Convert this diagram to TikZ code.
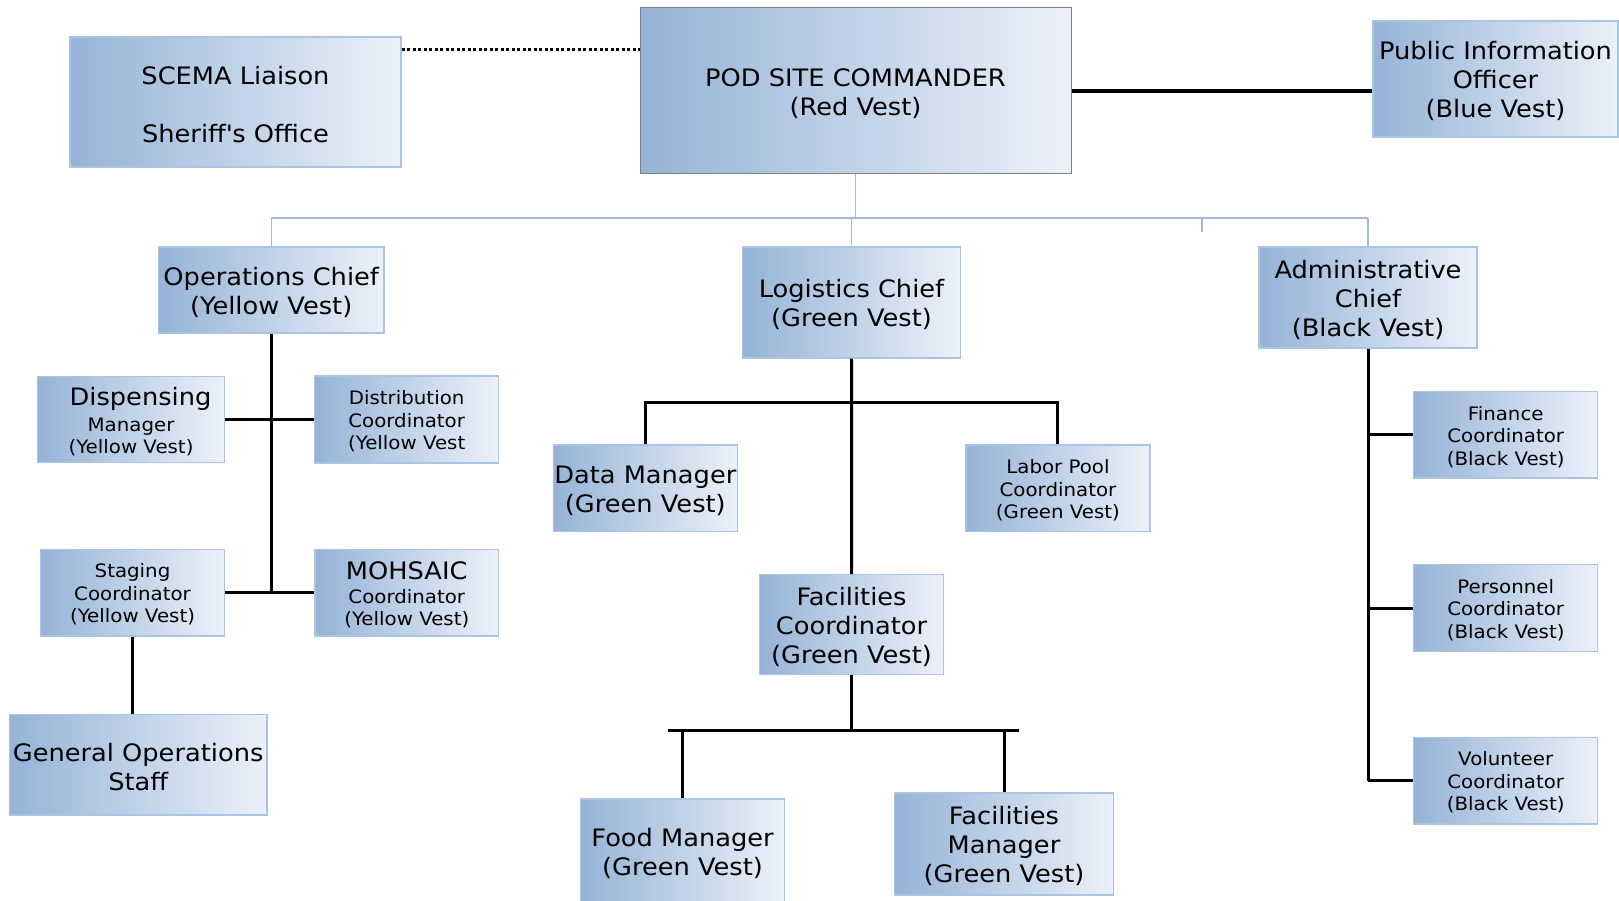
\documentclass[tikz,border=0pt]{standalone}
\usepackage{fontspec}
\setmainfont{DejaVu Sans}[FakeStretch=1.07]
\definecolor{gl}{RGB}{149,179,215}
\definecolor{gr}{RGB}{236,241,249}
\definecolor{bord}{RGB}{172,196,228}
\definecolor{busblue}{RGB}{160,185,220}
\newcommand{\bigf}{\fontsize{24}{29}\selectfont}
\newcommand{\smallf}{\fontsize{18.5}{22.5}\selectfont}
\newcommand{\bgstrut}{\rule{0pt}{23pt}}
\newcommand{\smstrut}{\rule{0pt}{18pt}}
\tikzset{
  box/.style={draw=bord, line width=1.2pt, left color=gl, right color=gr, inner sep=0pt, align=center, anchor=center},
  bigbox/.style={box, font=\bigf},
  smallbox/.style={box, font=\smallf},
  link/.style={line width=3pt, black},
  thicklink/.style={line width=4pt, black},
  dotlink/.style={line width=3pt, black, dash pattern=on 3pt off 2.5pt},
  buslink/.style={line width=1.5pt, busblue},
}
\begin{document}
\begin{tikzpicture}[x=1pt,y=-1pt]
\useasboundingbox (0,0) rectangle (1619,901);
% top level
\node[bigbox, minimum width=331pt, minimum height=130pt] (scema) at (235.5,102) {\bgstrut SCEMA Liaison\\[29pt]Sheriff\textquotesingle s Office};
\node[bigbox, draw=gray, line width=1pt, minimum width=431pt, minimum height=166pt] (pod) at (855.5,91) {\bgstrut POD SITE COMMANDER\\(Red Vest)};
\node[bigbox, minimum width=245pt, minimum height=116pt] (pio) at (1495.5,79) {\bgstrut Public Information\\Officer\\(Blue Vest)};
% chiefs
\node[bigbox, minimum width=225.5pt, minimum height=86pt] (ops) at (271.25,290) {\bgstrut Operations Chief\\(Yellow Vest)};
\node[bigbox, minimum width=218pt, minimum height=111pt] (log) at (851.5,302.5) {\bgstrut Logistics Chief\\(Green Vest)};
\node[bigbox, minimum width=218pt, minimum height=101pt] (adm) at (1368,297.5) {\bgstrut Administrative\\Chief\\(Black Vest)};
% operations
\node[smallbox, minimum width=187pt, minimum height=86.4pt] (disp) at (131,419.5) {{\bigf\bgstrut\hspace{19pt}Dispensing}\\[3pt]Manager\\(Yellow Vest)};
\node[smallbox, minimum width=183.7pt, minimum height=87pt] (dist) at (406.65,419.5) {\smstrut Distribution\\Coordinator\\(Yellow Vest};
\node[smallbox, minimum width=184pt, minimum height=86.7pt] (stag) at (132.5,592.65) {\smstrut Staging\\Coordinator\\(Yellow Vest)};
\node[smallbox, minimum width=183.5pt, minimum height=86.7pt] (moh) at (406.75,592.65) {{\bigf\bgstrut MOHSAIC}\\[1pt]Coordinator\\(Yellow Vest)};
\node[bigbox, minimum width=257.7pt, minimum height=100.7pt] (gos) at (138.15,764.65) {\bgstrut General Operations\\Staff};
% logistics
\node[bigbox, minimum width=184pt, minimum height=86.7pt] (data) at (645.35,488.35) {\bgstrut Data Manager\\(Green Vest)};
\node[smallbox, minimum width=184pt, minimum height=86.7pt] (labor) at (1057.95,488.35) {\smstrut Labor Pool\\Coordinator\\(Green Vest)};
\node[bigbox, minimum width=183.5pt, minimum height=99.6pt] (fac) at (851.55,624.5) {\bgstrut Facilities\\Coordinator\\(Green Vest)};
\node[bigbox, minimum width=203.7pt, minimum height=104pt] (food) at (682.55,851) {\bgstrut Food Manager\\(Green Vest)};
\node[bigbox, minimum width=218.6pt, minimum height=102pt] (fm) at (1004,844) {\bgstrut Facilities\\Manager\\(Green Vest)};
% admin
\node[smallbox, minimum width=184pt, minimum height=86.3pt] (fin) at (1505.7,434.85) {\smstrut Finance\\Coordinator\\(Black Vest)};
\node[smallbox, minimum width=184pt, minimum height=86.6pt] (per) at (1505.7,608) {\smstrut Personnel\\Coordinator\\(Black Vest)};
\node[smallbox, minimum width=184pt, minimum height=86.7pt] (vol) at (1505.7,780.65) {\smstrut Volunteer\\Coordinator\\(Black Vest)};

% top connectors
\draw[dotlink] ([yshift=-13pt]scema.north east) coordinate (d1) -- (d1 -| pod.west);
\draw[thicklink] (pod.east) -- (pod.east -| pio.west);
\coordinate (bus) at (855,218);
\coordinate (tick) at (1202,218);
\draw[buslink] (pod.south) -- (pod.south |- bus);
\draw[buslink] (ops.north |- bus) -- (adm.north |- bus);
\draw[buslink] (ops.north |- bus) -- (ops.north);
\draw[buslink] (log.north |- bus) -- (log.north);
\draw[buslink] (adm.north |- bus) -- (adm.north);
\draw[buslink] (tick) -- ++(0,14);
% operations connectors
\draw[link] (ops.south) -- (ops.south |- stag.east);
\draw[link] (disp.east) -- (dist.west);
\draw[link] (stag.east) -- (moh.west);
\draw[link] (stag.south) -- (stag.south |- gos.north);
% logistics connectors
\coordinate (lbus) at (851.5,402);
\draw[link] (log.south) -- (fac.north);
\draw[link] (data.north) -- (data.north |- lbus) -- (labor.north |- lbus) -- (labor.north);
\coordinate (fbus) at (851.5,730.7);
\draw[link] (fac.south) -- (fac.south |- fbus);
\draw[link] ([xshift=-15pt]food.north |- fbus) -- ([xshift=15pt]fm.north |- fbus);
\draw[link] (food.north |- fbus) -- (food.north);
\draw[link] (fm.north |- fbus) -- (fm.north);
% admin connectors
\draw[link] (adm.south) -- (adm.south |- vol.west);
\draw[link] (adm.south |- fin.west) -- (fin.west);
\draw[link] (adm.south |- per.west) -- (per.west);
\draw[link] (adm.south |- vol.west) -- (vol.west);
\end{tikzpicture}
\end{document}
